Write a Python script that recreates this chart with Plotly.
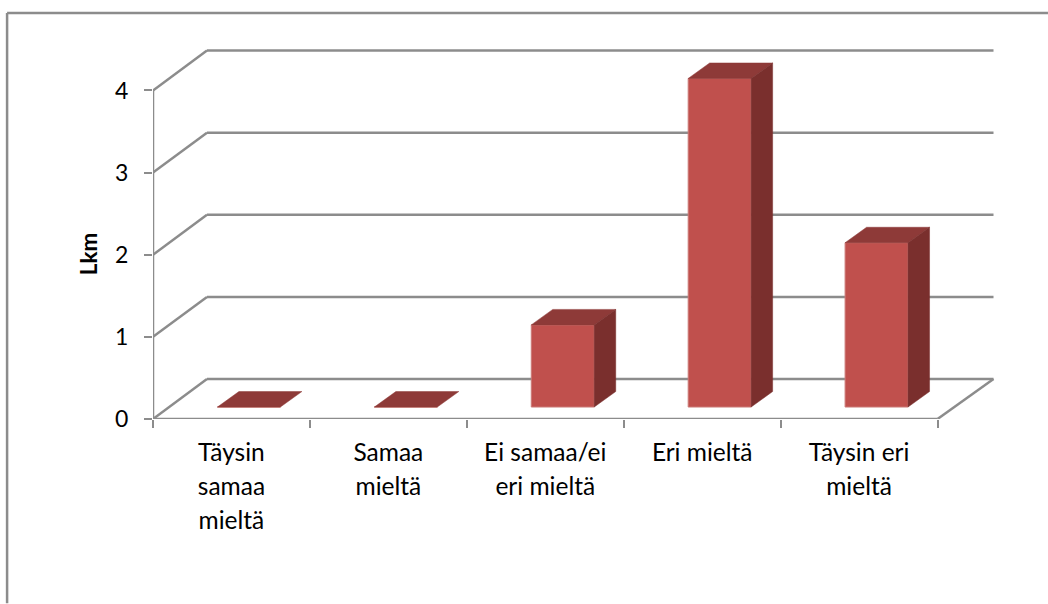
import plotly.graph_objects as go

# Arvot kuvasta
categories = [
    ["Täysin", "samaa", "mieltä"],
    ["Samaa", "mieltä"],
    ["Ei samaa/ei", "eri mieltä"],
    ["Eri mieltä"],
    ["Täysin eri", "mieltä"],
]
values = [0, 0, 1, 4, 2]
y_ticks = [0, 1, 2, 3, 4]

WIDTH, HEIGHT = 1048, 604
GRAY = "#8c8c8c"
FRONT, TOP, SIDE = "#c0504d", "#8e3a38", "#7a2f2d"
FONT = "Lato"

# Pikseliasettelu
LEFT, RIGHT, TOP_PX, BOTTOM = 152.5, 1000, 45, 419.5
PX_X = 157.0
PX_Y = 82.25
X0 = 0.5
X1 = X0 + (RIGHT - LEFT) / PX_X
Y1 = (BOTTOM - TOP_PX) / PX_Y

# 3D-syvyys akselin yksiköissä
WALL_DX, WALL_DY = 54 / PX_X, 40 / PX_Y
WALL_END_DX = 56 / PX_X
BAR_SHIFT_X, BAR_BASE = 17.5 / PX_X, 12 / PX_Y
BAR_W = 63 / PX_X
BAR_DX, BAR_DY = 21.5 / PX_X, 15.5 / PX_Y
N = len(values)
X_END = X0 + N


def px_x(px):
    return (px - LEFT) / (RIGHT - LEFT)


def px_y(px):
    return (BOTTOM - px) / (BOTTOM - TOP_PX)


fig = go.Figure()

# Etutahkot
centers = [i + 1 + BAR_SHIFT_X for i in range(N)]
fig.add_trace(go.Bar(x=centers, y=values, base=BAR_BASE, width=BAR_W,
                     marker={"color": FRONT, "line": {"color": "#cc7a77", "width": 1}},
                     hoverinfo="skip", showlegend=False))

# Ylä- ja sivutahkot
top_x, top_y, side_x, side_y = [], [], [], []
for c, v in zip(centers, values):
    l, r = c - BAR_W / 2, c + BAR_W / 2
    t = BAR_BASE + v
    top_x += [l, r, r + BAR_DX, l + BAR_DX, l, None]
    top_y += [t, t, t + BAR_DY, t + BAR_DY, t, None]
    if v > 0:
        side_x += [r, r + BAR_DX, r + BAR_DX, r, r, None]
        side_y += [BAR_BASE, BAR_BASE + BAR_DY, t + BAR_DY, t, BAR_BASE, None]

fig.add_trace(go.Scatter(x=top_x, y=top_y, mode="lines", fill="toself", fillcolor=TOP,
                         line={"color": TOP, "width": 0.5},
                         hoverinfo="skip", showlegend=False))
fig.add_trace(go.Scatter(x=side_x, y=side_y, mode="lines", fill="toself", fillcolor=SIDE,
                         line={"color": SIDE, "width": 0.5},
                         hoverinfo="skip", showlegend=False))

# Seinän ja lattian viivat
line = {"color": GRAY, "width": 2.5}
shapes = []
for v in y_ticks:
    shapes.append(dict(type="line", xref="x", yref="y", layer="below", line=line,
                       x0=X0, y0=v, x1=X0 + WALL_DX, y1=v + WALL_DY))
    shapes.append(dict(type="line", xref="x", yref="y", layer="below", line=line,
                       x0=X0 + WALL_DX, y0=v + WALL_DY, x1=X_END + WALL_END_DX, y1=v + WALL_DY))
shapes.append(dict(type="line", xref="x", yref="y", layer="below", line=line,
                   x0=X0, y0=0, x1=X0, y1=max(y_ticks)))
shapes.append(dict(type="line", xref="x", yref="y", layer="below", line=line,
                   x0=X0, y0=0, x1=X_END, y1=0))
shapes.append(dict(type="line", xref="x", yref="y", layer="below", line=line,
                   x0=X_END, y0=0, x1=X_END + WALL_END_DX, y1=WALL_DY))

# Kaavion kehys
shapes.append(dict(type="line", xref="paper", yref="paper", line=line,
                   x0=px_x(6.5), y0=px_y(13), x1=px_x(WIDTH), y1=px_y(13)))
shapes.append(dict(type="line", xref="paper", yref="paper", line=line,
                   x0=px_x(6.5), y0=px_y(13), x1=px_x(6.5), y1=px_y(HEIGHT)))

tick_text = ["<br>".join(f'<span style="font-size:24.5px">{s}</span>' for s in c)
             for c in categories]

fig.update_layout(
    width=WIDTH, height=HEIGHT,
    margin={"l": LEFT, "r": WIDTH - RIGHT, "t": TOP_PX, "b": HEIGHT - BOTTOM, "pad": 0},
    paper_bgcolor="white", plot_bgcolor="white",
    font={"family": FONT, "color": "#000000"},
    shapes=shapes,
    xaxis={
        "range": [X0, X1], "showgrid": False, "zeroline": False, "showline": False,
        "tickmode": "array", "tickvals": [i + 1 for i in range(N)], "ticktext": tick_text,
        "ticks": "", "tickangle": 0, "tickfont": {"size": 26, "family": FONT},
        "ticklabelstandoff": 15,
        "minor": {"tickmode": "array", "tickvals": [X0 + i for i in range(N + 1)],
                  "ticks": "outside", "ticklen": 8, "tickwidth": 2, "tickcolor": GRAY,
                  "showgrid": False},
    },
    yaxis={
        "range": [0, Y1], "showgrid": False, "zeroline": False, "showline": False,
        "tickmode": "array", "tickvals": y_ticks, "ticks": "outside", "ticklen": 8,
        "tickwidth": 2, "tickcolor": GRAY, "tickfont": {"size": 23, "family": FONT},
        "ticklabelstandoff": 11,
    },
    annotations=[dict(text="<b>Lkm</b>", xref="paper", yref="paper", x=px_x(88), y=px_y(254),
                      xanchor="center", yanchor="middle",
                      textangle=-90, showarrow=False, font={"size": 22.5, "family": FONT})],
)

fig.write_html("out.html", config={"displayModeBar": False},
               post_script="document.body.style.margin='0';")
